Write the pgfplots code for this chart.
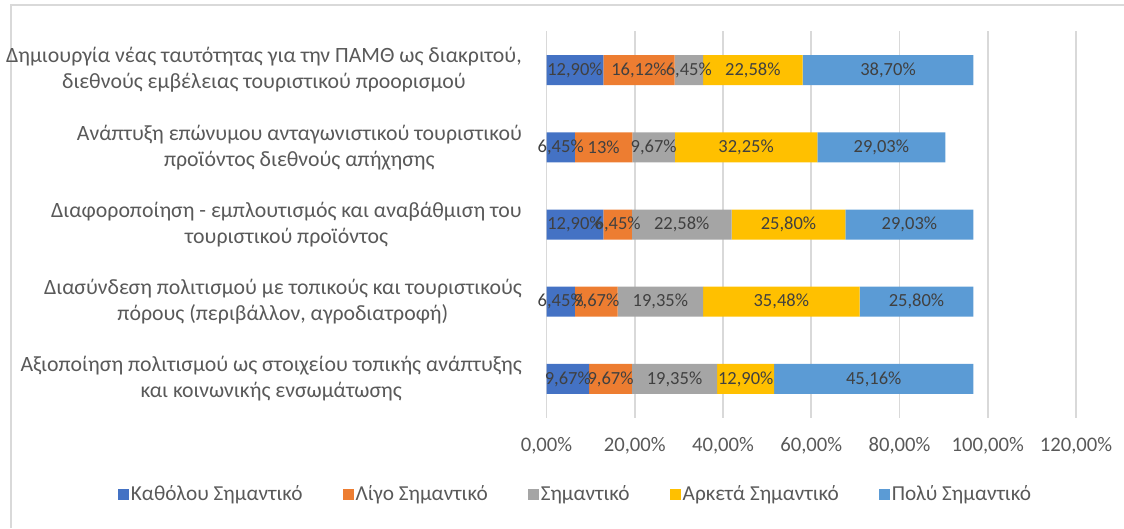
\documentclass[border=0pt]{standalone}
\usepackage{pgfplots}
\pgfplotsset{compat=1.18}
\usepackage{pgfplotstable}
\usepackage{fontspec}
\setmainfont{Carlito}
\definecolor{c1}{HTML}{4472C4}
\definecolor{c2}{HTML}{ED7D31}
\definecolor{c3}{HTML}{A5A5A5}
\definecolor{c4}{HTML}{FFC000}
\definecolor{c5}{HTML}{5B9BD5}
\definecolor{gridc}{HTML}{D9D9D9}
\definecolor{txt}{HTML}{595959}
\definecolor{lbl}{HTML}{404040}

% y = category index (0 = top)
\pgfplotstableread{
y x lab
0 12.90 12,90
1 6.45 6,45
2 12.90 12,90
3 6.45 6,45
4 9.67 9,67
}\tA
\pgfplotstableread{
y x lab
0 16.12 16,12
1 13.00 13
2 6.45 6,45
3 9.67 9,67
4 9.67 9,67
}\tB
\pgfplotstableread{
y x lab
0 6.45 6,45
1 9.67 9,67
2 22.58 22,58
3 19.35 19,35
4 19.35 19,35
}\tC
\pgfplotstableread{
y x lab
0 22.58 22,58
1 32.25 32,25
2 25.80 25,80
3 35.48 35,48
4 12.90 12,90
}\tD
\pgfplotstableread{
y x lab
0 38.70 38,70
1 29.03 29,03
2 29.03 29,03
3 25.80 25,80
4 45.16 45,16
}\tE

\begin{document}
\begin{tikzpicture}
\useasboundingbox (0pt,0pt) rectangle (1124pt,528pt);
\draw[gridc, line width=1.2pt] (11pt,0pt) -- (11pt,523pt) -- (1124pt,523pt);
\begin{axis}[
  at={(546.5pt,110.4pt)}, anchor=south west,
  scale only axis, width=529.5pt, height=386.2pt,
  xbar stacked, bar width=30pt,
  xmin=0, xmax=120, ymin=-0.5, ymax=4.5, y dir=reverse,
  axis line style={draw=none},
  tick style={draw=none},
  xmajorgrids, major grid style={gridc, line width=1.6pt},
  xtick={0,20,40,60,80,100,120},
  xticklabels={{0,00\%},{20,00\%},{40,00\%},{60,00\%},{80,00\%},{100,00\%},{120,00\%}},
  xticklabel style={font=\fontsize{20.7}{25}\selectfont, text=txt, anchor=center, inner sep=0pt, yshift=-28pt},
  ytick={0,1,2,3,4},
  yticklabels={
    {Δημιουργία νέας ταυτότητας για την ΠΑΜΘ ως διακριτού,\\διεθνούς εμβέλειας τουριστικού προορισμού},
    {Ανάπτυξη επώνυμου ανταγωνιστικού τουριστικού\\προϊόντος διεθνούς απήχησης},
    {Διαφοροποίηση - εμπλουτισμός και αναβάθμιση του\\τουριστικού προϊόντος},
    {Διασύνδεση πολιτισμού με τοπικούς και τουριστικούς\\πόρους (περιβάλλον, αγροδιατροφή)},
    {Αξιοποίηση πολιτισμού ως στοιχείου τοπικής ανάπτυξης\\και κοινωνικής ενσωμάτωσης}},
  yticklabel style={font=\fontsize{21.8}{26}\selectfont, text=txt, align=center, anchor=east, inner sep=0pt, xshift=-24.5pt},
  point meta=explicit symbolic,
  nodes near coords={\pgfplotspointmeta\%},
  nodes near coords style={font=\fontsize{18.5}{22}\selectfont, text=lbl, anchor=center, inner sep=0pt},
  legend columns=5,
  legend style={at={(axis description cs:0.0548,-0.198)}, anchor=center, draw=none, fill=none,
    font=\fontsize{21.3}{25}\selectfont, text=txt,
    /tikz/every even column/.append style={column sep=38pt}},
  legend image code/.code={\fill[#1] (0pt,-5.5pt) rectangle (11pt,5.5pt);},
]
\addplot[fill=c1, draw=none] table[x=x, y=y, meta=lab] {\tA};
\addplot[fill=c2, draw=none] table[x=x, y=y, meta=lab] {\tB};
\addplot[fill=c3, draw=none] table[x=x, y=y, meta=lab] {\tC};
\addplot[fill=c4, draw=none] table[x=x, y=y, meta=lab] {\tD};
\addplot[fill=c5, draw=none] table[x=x, y=y, meta=lab] {\tE};
\legend{Καθόλου Σημαντικό, Λίγο Σημαντικό, Σημαντικό, Αρκετά Σημαντικό, Πολύ Σημαντικό}
\end{axis}
\end{tikzpicture}
\end{document}
